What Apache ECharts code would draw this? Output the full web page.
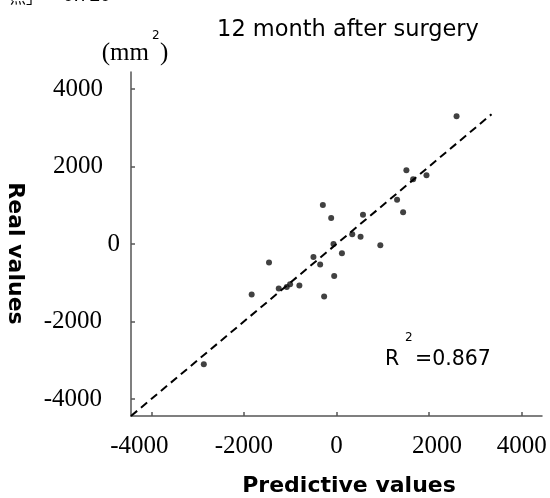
<!DOCTYPE html>
<html>
<head>
<meta charset="utf-8">
<script src="https://cdn.jsdelivr.net/npm/echarts@6/dist/echarts.min.js"></script>
<style>
  html, body { margin: 0; padding: 0; background: #fff; }
  #main { width: 550px; height: 498px; }
</style>
</head>
<body>
<div id="main"></div>
<script>
// values (mm^2)
const predictive = [-295, -115, -1458, -498, -353, -65, 117, -50, 2594, 1510,
                    1655, 1944, 1309, 1439, 572, 340, 520, 947, -1833, -1248,
                    -1075, -1003, -802, -267, -2867];
const real = [1006, 671, -480, -335, -532, 0, -240, -826, 3295, 1901,
              1669, 1772, 1145, 818, 758, 250, 190, -34, -1306, -1151,
              -1109, -1040, -1073, -1357, -3104];
// y = x reference line, drawn from the corner up to where it stops
const fitLine = [[-4440, -4440], [3350, 3350]];
const tickValues = [-4000, -2000, 0, 2000, 4000];
const axisMin = -4440;
const axisMax = 4440;

const points = predictive.map((x, i) => [x, real[i]]);

const serif = 'Liberation Serif';
const sans = 'DejaVu Sans';

const chart = echarts.init(document.getElementById('main'), null, { renderer: 'canvas' });

const axisLineStyle = { color: '#555', width: 1.5 };

function txt(text, x, y, font, size, align) {
  return {
    type: 'text', x: x, y: y,
    style: {
      text: text, fontFamily: font, fontSize: size, fill: '#000',
      align: align || 'left', verticalAlign: 'middle'
    }
  };
}

const option = {
  animation: false,
  backgroundColor: '#fff',
  grid: { left: 131, right: 8, top: 72, bottom: 82, outerBoundsMode: 'none', containLabel: false },
  xAxis: {
    type: 'value',
    min: axisMin,
    max: axisMax,
    name: 'Predictive values',
    nameLocation: 'middle',
    nameGap: 59,
    nameTextStyle: {
      fontFamily: sans, fontWeight: 'bold', fontSize: 22, color: '#000',
      padding: [0, 0, 0, 25]
    },
    axisLine: { show: true, onZero: false, lineStyle: axisLineStyle },
    axisTick: { show: true, inside: true, length: 4, customValues: tickValues, lineStyle: axisLineStyle },
    splitLine: { show: false },
    axisLabel: {
      customValues: tickValues,
      margin: 18,
      fontFamily: serif, fontSize: 25, color: '#000',
      formatter: v => v === -4000 ? '{l|' + v + '}' : v === 2000 ? '{r|' + v + '}' : '{n|' + v + '}',
      rich: {
        n: { fontFamily: serif, fontSize: 25, color: '#000' },
        l: { fontFamily: serif, fontSize: 25, color: '#000', padding: [0, 24, 0, 0] },
        r: { fontFamily: serif, fontSize: 25, color: '#000', padding: [0, 0, 0, 16] }
      }
    }
  },
  yAxis: {
    type: 'value',
    min: axisMin,
    max: axisMax,
    name: 'Real values',
    nameLocation: 'middle',
    nameRotate: -90,
    nameGap: 105,
    nameTextStyle: {
      fontFamily: sans, fontWeight: 'bold', fontSize: 22, color: '#000',
      padding: [0, 0, 0, 19]
    },
    axisLine: { show: true, onZero: false, lineStyle: axisLineStyle },
    axisTick: { show: true, inside: true, length: 4, customValues: tickValues, lineStyle: axisLineStyle },
    splitLine: { show: false },
    axisLabel: {
      customValues: tickValues,
      margin: 11,
      fontFamily: serif, fontSize: 25, color: '#000',
      formatter: v => v > 0 ? '{p|' + v + '}' : v < 0 ? '{m|' + v + '}' : '{n|' + v + '}',
      rich: {
        n: { fontFamily: serif, fontSize: 25, color: '#000' },
        p: { fontFamily: serif, fontSize: 25, color: '#000', padding: [0, 17, 0, 0] },
        m: { fontFamily: serif, fontSize: 25, color: '#000', padding: [0, 18, 0, 0] }
      }
    }
  },
  series: [
    {
      type: 'line',
      data: fitLine,
      symbol: 'none',
      silent: true,
      lineStyle: { color: '#000', width: 2, type: [8, 5] }
    },
    {
      type: 'scatter',
      data: points,
      symbol: 'circle',
      symbolSize: 6,
      itemStyle: { color: '#111' }
    }
  ],
  graphic: [
    // bottom edge of the caption line above the figure, cut off by the crop
    txt('照」', 10, -3, 'Noto Sans CJK SC', 16),
    txt('0.720', 63, -4, 'Liberation Sans', 19),
    txt('12 month after surgery', 348, 30.5, sans, 22.5, 'center'),
    // (mm²) unit label, superscript set high as in the source
    txt('(mm', 101.7, 53.8, serif, 25),
    txt('2', 152, 35.8, sans, 12),
    txt(')', 160, 53.8, serif, 25),
    // R² annotation
    txt('R', 385, 359.6, sans, 20.5),
    txt('2', 405, 337.5, sans, 12),
    txt('=0.867', 415, 359.6, sans, 20.5)
  ]
};

chart.setOption(option);
</script>
</body>
</html>
